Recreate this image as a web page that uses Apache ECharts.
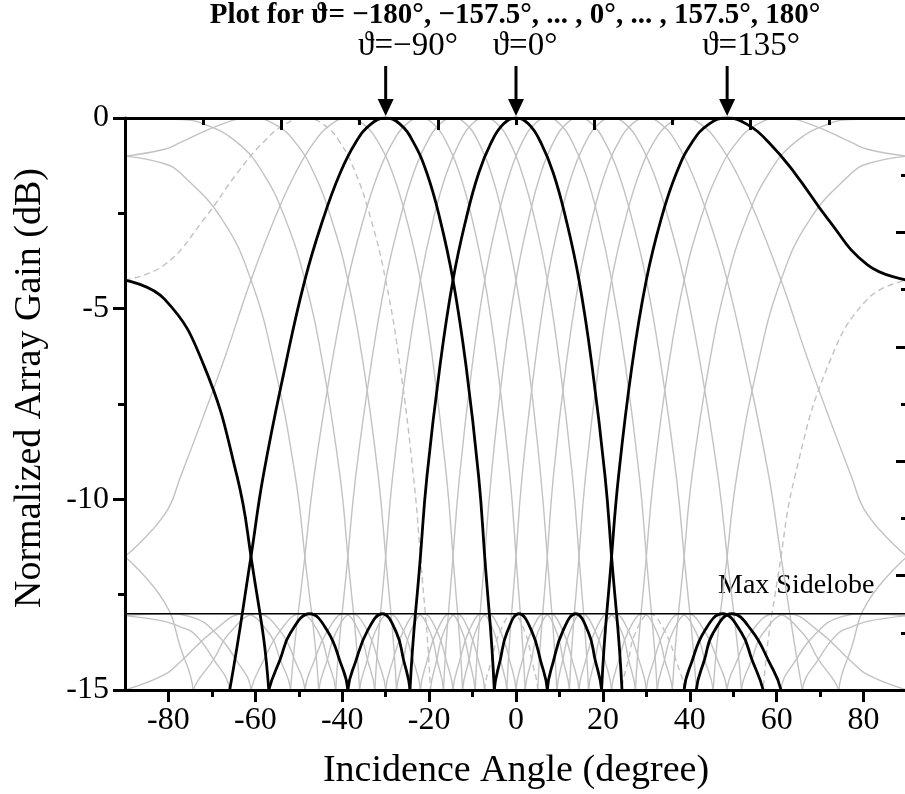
<!DOCTYPE html>
<html>
<head>
<meta charset="utf-8">
<title>Normalized array gain</title>
<script src="https://cdn.jsdelivr.net/npm/echarts@6/dist/echarts.min.js"></script>
<style>
  html, body { margin: 0; padding: 0; background: #fff; }
  #chart { width: 905px; height: 794px; }
</style>
</head>
<body>
<div id="chart"></div>
<script>
// normalized array gain of each beam, [incidence angle (deg), gain (dB)]
// named after the phase shift ϑ (ϑ=180° is the same beam as ϑ=-180°)
const beamM180 = [[-90,0],[-77.2,-0.04],[-71.8,-0.16],[-64.2,-0.64],[-58.2,-1.45],[-53.1,-2.65],[-48.6,-4.25],[-44.4,-6.5],[-40.5,-9.4],[-38.7,-11.5],[-36,-15],[-30,-30],[-22,-15],[-20.5,-14.25],[-18.2,-13.45],[-15.2,-13],[-12.3,-13.5],[-10.8,-14.2],[-9.4,-15],[0,-30],[9.4,-15],[10.8,-14.2],[12.3,-13.5],[15.2,-13],[18.2,-13.45],[20.5,-14.25],[22,-15],[30,-30],[36,-15],[38.7,-11.5],[40.5,-9.4],[44.4,-6.5],[48.6,-4.25],[53.1,-2.65],[58.2,-1.45],[64.2,-0.64],[71.8,-0.16],[77.2,-0.04],[90,0]];
const beamM157 = [[-90,-1.0],[-80.9,-0.82],[-77.2,-0.64],[-67.7,-0.16],[-61,0],[-55.6,-0.16],[-50.8,-0.64],[-46.5,-1.45],[-42.5,-2.65],[-38.7,-4.25],[-35.1,-6.5],[-31.7,-9.4],[-30,-11.5],[-27.5,-15],[-22,-30],[-14.5,-15],[-13,-14.25],[-10.8,-13.45],[-7.9,-13],[-5,-13.5],[-3.6,-14.2],[-2.1,-15],[7.2,-30],[16.7,-15],[18.2,-14.2],[19.7,-13.5],[22.8,-13],[25.9,-13.45],[28.4,-14.25],[30,-15],[38.7,-30],[45.4,-15],[48.6,-11.5],[50.8,-9.4],[55.6,-6.5],[61,-4.25],[67.7,-2.65],[77.2,-1.45],[80.9,-1.2],[90,-1.0]];
const beamM135 = [[-90,-4.25],[-80.9,-3.85],[-71.8,-2.65],[-64.2,-1.45],[-58.2,-0.64],[-53.1,-0.16],[-48.6,0],[-44.4,-0.16],[-40.5,-0.64],[-36.9,-1.45],[-33.4,-2.65],[-30,-4.25],[-26.7,-6.5],[-23.6,-9.4],[-22,-11.5],[-19.7,-15],[-14.5,-30],[-7.2,-15],[-5.7,-14.25],[-3.6,-13.45],[-0.7,-13],[2.1,-13.5],[3.6,-14.2],[5,-15],[14.5,-30],[24.4,-15],[25.9,-14.2],[27.5,-13.5],[30.8,-13],[34.2,-13.45],[36.9,-14.25],[38.7,-15],[48.6,-30],[56.9,-15],[61,-11.5],[64.2,-9.4],[71.8,-6.5],[80.9,-4.75],[90,-4.25]];
const beamM112 = [[-90,-11.5],[-80.9,-10.4],[-77.2,-9.4],[-67.7,-6.5],[-61,-4.25],[-55.6,-2.65],[-50.8,-1.45],[-46.5,-0.64],[-42.5,-0.16],[-38.7,0],[-35.1,-0.16],[-31.7,-0.64],[-28.4,-1.45],[-25.2,-2.65],[-22,-4.25],[-19,-6.5],[-16,-9.4],[-14.5,-11.5],[-12.3,-15],[-7.2,-30],[0,-15],[1.4,-14.25],[3.6,-13.45],[6.5,-13],[9.4,-13.5],[10.8,-14.2],[12.3,-15],[22,-30],[32.5,-15],[34.2,-14.2],[36,-13.5],[39.6,-13],[43.4,-13.45],[46.5,-14.25],[48.6,-15],[61,-30],[74.3,-15],[77.2,-13.9],[80.9,-12.7],[90,-11.5]];
const beamM90 = [[-90,-30],[-65.9,-15],[-61,-11.5],[-58.2,-9.4],[-53.1,-6.5],[-48.6,-4.25],[-44.4,-2.65],[-40.5,-1.45],[-36.9,-0.64],[-33.4,-0.16],[-30,0],[-26.7,-0.16],[-23.6,-0.64],[-20.5,-1.45],[-17.5,-2.65],[-14.5,-4.25],[-11.5,-6.5],[-8.6,-9.4],[-7.2,-11.5],[-5,-15],[0,-30],[7.2,-15],[8.6,-14.25],[10.8,-13.45],[13.7,-13],[16.7,-13.5],[18.2,-14.2],[19.7,-15],[30,-30],[41.5,-15],[43.4,-14.2],[45.4,-13.5],[49.7,-13],[54.3,-13.45],[58.2,-14.25],[61,-15],[90,-30]];
const beamM67 = [[-90,-15],[-61,-30],[-51.9,-15],[-48.6,-11.5],[-46.5,-9.4],[-42.5,-6.5],[-38.7,-4.25],[-35.1,-2.65],[-31.7,-1.45],[-28.4,-0.64],[-25.2,-0.16],[-22,0],[-19,-0.16],[-16,-0.64],[-13,-1.45],[-10.1,-2.65],[-7.2,-4.25],[-4.3,-6.5],[-1.4,-9.4],[0,-11.5],[2.1,-15],[7.2,-30],[14.5,-15],[16,-14.25],[18.2,-13.45],[21.3,-13],[24.4,-13.5],[25.9,-14.2],[27.5,-15],[38.7,-30],[51.9,-15],[54.3,-14.2],[56.9,-13.5],[62.6,-13],[69.6,-13.45],[77.2,-14.25],[80.9,-14.6],[90,-15]];
const beamM45 = [[-90,-13.05],[-80.9,-13],[-74.3,-13.1],[-69.6,-13.45],[-64.2,-14.25],[-61,-15],[-48.6,-30],[-41.5,-15],[-38.7,-11.5],[-36.9,-9.4],[-33.4,-6.5],[-30,-4.25],[-26.7,-2.65],[-23.6,-1.45],[-20.5,-0.64],[-17.5,-0.16],[-14.5,0],[-11.5,-0.16],[-8.6,-0.64],[-5.7,-1.45],[-2.9,-2.65],[0,-4.25],[2.9,-6.5],[5.7,-9.4],[7.2,-11.5],[9.4,-15],[14.5,-30],[22,-15],[23.6,-14.25],[25.9,-13.45],[29.2,-13],[32.5,-13.5],[34.2,-14.2],[36,-15],[48.6,-30],[65.9,-15],[69.6,-14.2],[74.3,-13.5],[77.2,-13.35],[80.9,-13.2],[90,-13.05]];
const beamM22 = [[-90,-20],[-74.3,-15],[-69.6,-14.2],[-65.9,-13.5],[-59.6,-13],[-54.3,-13.45],[-50.8,-14.25],[-48.6,-15],[-38.7,-30],[-32.5,-15],[-30,-11.5],[-28.4,-9.4],[-25.2,-6.5],[-22,-4.25],[-19,-2.65],[-16,-1.45],[-13,-0.64],[-10.1,-0.16],[-7.2,0],[-4.3,-0.16],[-1.4,-0.64],[1.4,-1.45],[4.3,-2.65],[7.2,-4.25],[10.1,-6.5],[13,-9.4],[14.5,-11.5],[16.7,-15],[22,-30],[30,-15],[31.7,-14.25],[34.2,-13.45],[37.8,-13],[41.5,-13.5],[43.4,-14.2],[45.4,-15],[61,-30],[90,-20]];
const beam0 = [[-90,-30],[-56.9,-15],[-54.3,-14.2],[-51.9,-13.5],[-47.5,-13],[-43.4,-13.45],[-40.5,-14.25],[-38.7,-15],[-30,-30],[-24.4,-15],[-22,-11.5],[-20.5,-9.4],[-17.5,-6.5],[-14.5,-4.25],[-11.5,-2.65],[-8.6,-1.45],[-5.7,-0.64],[-2.9,-0.16],[0,0],[2.9,-0.16],[5.7,-0.64],[8.6,-1.45],[11.5,-2.65],[14.5,-4.25],[17.5,-6.5],[20.5,-9.4],[22,-11.5],[24.4,-15],[30,-30],[38.7,-15],[40.5,-14.25],[43.4,-13.45],[47.5,-13],[51.9,-13.5],[54.3,-14.2],[56.9,-15],[90,-30]];
const beam22 = [[-90,-20],[-61,-30],[-45.4,-15],[-43.4,-14.2],[-41.5,-13.5],[-37.8,-13],[-34.2,-13.45],[-31.7,-14.25],[-30,-15],[-22,-30],[-16.7,-15],[-14.5,-11.5],[-13,-9.4],[-10.1,-6.5],[-7.2,-4.25],[-4.3,-2.65],[-1.4,-1.45],[1.4,-0.64],[4.3,-0.16],[7.2,0],[10.1,-0.16],[13,-0.64],[16,-1.45],[19,-2.65],[22,-4.25],[25.2,-6.5],[28.4,-9.4],[30,-11.5],[32.5,-15],[38.7,-30],[48.6,-15],[50.8,-14.25],[54.3,-13.45],[59.6,-13],[65.9,-13.5],[69.6,-14.2],[74.3,-15],[90,-20]];
const beam45 = [[-90,-13.05],[-80.9,-13.2],[-77.2,-13.35],[-74.3,-13.5],[-69.6,-14.2],[-65.9,-15],[-48.6,-30],[-36,-15],[-34.2,-14.2],[-32.5,-13.5],[-29.2,-13],[-25.9,-13.45],[-23.6,-14.25],[-22,-15],[-14.5,-30],[-9.4,-15],[-7.2,-11.5],[-5.7,-9.4],[-2.9,-6.5],[0,-4.25],[2.9,-2.65],[5.7,-1.45],[8.6,-0.64],[11.5,-0.16],[14.5,0],[17.5,-0.16],[20.5,-0.64],[23.6,-1.45],[26.7,-2.65],[30,-4.25],[33.4,-6.5],[36.9,-9.4],[38.7,-11.5],[41.5,-15],[48.6,-30],[61,-15],[64.2,-14.25],[69.6,-13.45],[74.3,-13.1],[80.9,-13],[90,-13.05]];
const beam67 = [[-90,-15],[-80.9,-14.6],[-77.2,-14.25],[-69.6,-13.45],[-62.6,-13],[-56.9,-13.5],[-54.3,-14.2],[-51.9,-15],[-38.7,-30],[-27.5,-15],[-25.9,-14.2],[-24.4,-13.5],[-21.3,-13],[-18.2,-13.45],[-16,-14.25],[-14.5,-15],[-7.2,-30],[-2.1,-15],[0,-11.5],[1.4,-9.4],[4.3,-6.5],[7.2,-4.25],[10.1,-2.65],[13,-1.45],[16,-0.64],[19,-0.16],[22,0],[25.2,-0.16],[28.4,-0.64],[31.7,-1.45],[35.1,-2.65],[38.7,-4.25],[42.5,-6.5],[46.5,-9.4],[48.6,-11.5],[51.9,-15],[61,-30],[90,-15]];
const beam90 = [[-90,-30],[-61,-15],[-58.2,-14.25],[-54.3,-13.45],[-49.7,-13],[-45.4,-13.5],[-43.4,-14.2],[-41.5,-15],[-30,-30],[-19.7,-15],[-18.2,-14.2],[-16.7,-13.5],[-13.7,-13],[-10.8,-13.45],[-8.6,-14.25],[-7.2,-15],[0,-30],[5,-15],[7.2,-11.5],[8.6,-9.4],[11.5,-6.5],[14.5,-4.25],[17.5,-2.65],[20.5,-1.45],[23.6,-0.64],[26.7,-0.16],[30,0],[33.4,-0.16],[36.9,-0.64],[40.5,-1.45],[44.4,-2.65],[48.6,-4.25],[53.1,-6.5],[58.2,-9.4],[61,-11.5],[65.9,-15],[90,-30]];
const beam112 = [[-90,-11.5],[-80.9,-12.7],[-77.2,-13.9],[-74.3,-15],[-61,-30],[-48.6,-15],[-46.5,-14.25],[-43.4,-13.45],[-39.6,-13],[-36,-13.5],[-34.2,-14.2],[-32.5,-15],[-22,-30],[-12.3,-15],[-10.8,-14.2],[-9.4,-13.5],[-6.5,-13],[-3.6,-13.45],[-1.4,-14.25],[0,-15],[7.2,-30],[12.3,-15],[14.5,-11.5],[16,-9.4],[19,-6.5],[22,-4.25],[25.2,-2.65],[28.4,-1.45],[31.7,-0.64],[35.1,-0.16],[38.7,0],[42.5,-0.16],[46.5,-0.64],[50.8,-1.45],[55.6,-2.65],[61,-4.25],[67.7,-6.5],[77.2,-9.4],[80.9,-10.4],[90,-11.5]];
const beam135 = [[-90,-4.25],[-80.9,-4.75],[-71.8,-6.5],[-64.2,-9.4],[-61,-11.5],[-56.9,-15],[-48.6,-30],[-38.7,-15],[-36.9,-14.25],[-34.2,-13.45],[-30.8,-13],[-27.5,-13.5],[-25.9,-14.2],[-24.4,-15],[-14.5,-30],[-5,-15],[-3.6,-14.2],[-2.1,-13.5],[0.7,-13],[3.6,-13.45],[5.7,-14.25],[7.2,-15],[14.5,-30],[19.7,-15],[22,-11.5],[23.6,-9.4],[26.7,-6.5],[30,-4.25],[33.4,-2.65],[36.9,-1.45],[40.5,-0.64],[44.4,-0.16],[48.6,0],[53.1,-0.16],[58.2,-0.64],[64.2,-1.45],[71.8,-2.65],[80.9,-3.85],[90,-4.25]];
const beam157 = [[-90,-1.0],[-80.9,-1.2],[-77.2,-1.45],[-67.7,-2.65],[-61,-4.25],[-55.6,-6.5],[-50.8,-9.4],[-48.6,-11.5],[-45.4,-15],[-38.7,-30],[-30,-15],[-28.4,-14.25],[-25.9,-13.45],[-22.8,-13],[-19.7,-13.5],[-18.2,-14.2],[-16.7,-15],[-7.2,-30],[2.1,-15],[3.6,-14.2],[5,-13.5],[7.9,-13],[10.8,-13.45],[13,-14.25],[14.5,-15],[22,-30],[27.5,-15],[30,-11.5],[31.7,-9.4],[35.1,-6.5],[38.7,-4.25],[42.5,-2.65],[46.5,-1.45],[50.8,-0.64],[55.6,-0.16],[61,0],[67.7,-0.16],[77.2,-0.64],[80.9,-0.82],[90,-1.0]];

// max sidelobe level (dB)
const maxSidelobe = -13;

// tick positions
const xMajorTicks = [-80, -60, -40, -20, 0, 20, 40, 60, 80];
const xMinorTicks = [-70, -50, -30, -10, 10, 30, 50, 70];
const topMajorTicks = [-54, -18, 18, 54];
const topMinorTicks = [-72, -36, 0, 36, 72];
const yMajorTicks = [0, -5, -10, -15];
const yMinorTicks = [-2.5, -7.5, -12.5];
const rightMajorTicks = [-12, -9, -6, -3];
const rightMinorTicks = [-13.5, -10.5, -7.5, -4.5, -1.5];

// highlighted beams: peak angle and caption
const arrowAngles = [-30, 0, 48.6];
const arrowCaptions = ['ϑ=−90°', 'ϑ=0°', 'ϑ=135°'];

const FONT = "'Liberation Serif', 'Times New Roman', serif";
const GRAY = '#c2c2c2';

const beams = [
  { data: beamM180, kind: 'gray' },
  { data: beamM157, kind: 'gray' },
  { data: beamM112, kind: 'gray' },
  { data: beamM67, kind: 'gray' },
  { data: beamM45, kind: 'gray' },
  { data: beamM22, kind: 'gray' },
  { data: beam22, kind: 'gray' },
  { data: beam45, kind: 'gray' },
  { data: beam67, kind: 'gray' },
  { data: beam90, kind: 'gray' },
  { data: beam112, kind: 'gray' },
  { data: beam157, kind: 'gray' },
  { data: beamM135, kind: 'dashed' },
  { data: beamM90, kind: 'black' },
  { data: beam0, kind: 'black' },
  { data: beam135, kind: 'black' }
];

function lineStyleFor(kind) {
  if (kind === 'black') return { color: '#000', width: 2.8 };
  if (kind === 'dashed') return { color: GRAY, width: 1.4, type: [6, 4] };
  return { color: GRAY, width: 1.4 };
}

const series = beams.map(b => ({
  type: 'line',
  data: b.data,
  symbol: 'none',
  smooth: 0.45,
  silent: true,
  z: b.kind === 'black' ? 4 : 2,
  lineStyle: lineStyleFor(b.kind)
}));
series.push({
  type: 'line',
  data: [[-90, maxSidelobe], [90, maxSidelobe]],
  symbol: 'none',
  silent: true,
  z: 3,
  lineStyle: { color: '#000', width: 1.4 }
});

const axisLine = { show: true, onZero: false, lineStyle: { color: '#000', width: 3 } };
const noLine = { show: false, onZero: false };
const tickStyle = { color: '#000', width: 3 };
const labelStyle = { fontSize: 32, fontFamily: FONT, color: '#000' };

const chart = echarts.init(document.getElementById('chart'));
chart.setOption({
  animation: false,
  grid: { left: 125, right: -2, top: 118, bottom: 104, containLabel: false, outerBoundsMode: 'none' },
  xAxis: [
    { type: 'value', position: 'bottom', min: -90, max: 90, z: 10, axisLine: axisLine,
      axisTick: { show: true, customValues: xMajorTicks, length: 12, lineStyle: tickStyle },
      axisLabel: Object.assign({ customValues: xMajorTicks, margin: 15 }, labelStyle),
      splitLine: { show: false } },
    { type: 'value', position: 'bottom', min: -90, max: 90, z: 10, axisLine: noLine,
      axisTick: { show: true, customValues: xMinorTicks, length: 7, lineStyle: tickStyle },
      axisLabel: { show: false }, splitLine: { show: false } },
    { type: 'value', position: 'top', min: -90, max: 90, z: 10, axisLine: axisLine,
      axisTick: { show: true, inside: true, customValues: topMajorTicks, length: 12, lineStyle: tickStyle },
      axisLabel: { show: false }, splitLine: { show: false } },
    { type: 'value', position: 'top', min: -90, max: 90, z: 10, axisLine: noLine,
      axisTick: { show: true, inside: true, customValues: topMinorTicks, length: 7, lineStyle: tickStyle },
      axisLabel: { show: false }, splitLine: { show: false } }
  ],
  yAxis: [
    { type: 'value', position: 'left', min: -15, max: 0, z: 10, axisLine: axisLine,
      axisTick: { show: true, customValues: yMajorTicks, length: 12, lineStyle: tickStyle },
      axisLabel: Object.assign({ customValues: yMajorTicks, margin: 16 }, labelStyle),
      splitLine: { show: false } },
    { type: 'value', position: 'left', min: -15, max: 0, z: 10, axisLine: noLine,
      axisTick: { show: true, customValues: yMinorTicks, length: 7, lineStyle: tickStyle },
      axisLabel: { show: false }, splitLine: { show: false } },
    { type: 'value', position: 'right', min: -15, max: 0, z: 10, axisLine: axisLine,
      axisTick: { show: true, inside: true, customValues: rightMajorTicks, length: 11, lineStyle: tickStyle },
      axisLabel: { show: false }, splitLine: { show: false } },
    { type: 'value', position: 'right', min: -15, max: 0, z: 10, axisLine: noLine,
      axisTick: { show: true, inside: true, customValues: rightMinorTicks, length: 6, lineStyle: tickStyle },
      axisLabel: { show: false }, splitLine: { show: false } }
  ],
  series: series
});

// arrows and captions above the plot
const captionX = [408, 525, 751];
const topY = chart.convertToPixel({ yAxisIndex: 0 }, 0);
const graphic = [];
arrowAngles.forEach((a, i) => {
  const x = chart.convertToPixel({ xAxisIndex: 0 }, a);
  graphic.push({ type: 'line', shape: { x1: x, y1: 66, x2: x, y2: topY - 14 },
    style: { stroke: '#000', lineWidth: 3 } });
  graphic.push({ type: 'polygon', shape: { points: [[x - 8, topY - 19], [x + 8, topY - 19], [x, topY - 2]] },
    style: { fill: '#000' } });
  graphic.push({ type: 'text', x: captionX[i], y: 46,
    style: { text: arrowCaptions[i], fontSize: 33, fontFamily: FONT, fill: '#000', align: 'center', verticalAlign: 'middle' } });
});
graphic.push({ type: 'text', x: 515, y: 16,
  style: { text: 'Plot for ϑ= −180°, −157.5°, ... , 0°, ... , 157.5°, 180°', fontSize: 29, fontWeight: 'bold',
    fontFamily: FONT, fill: '#000', align: 'center', verticalAlign: 'middle' } });
graphic.push({ type: 'text', x: 718, y: 586,
  style: { text: 'Max Sidelobe', fontSize: 28, fontFamily: FONT, fill: '#000', align: 'left', verticalAlign: 'middle' } });
graphic.push({ type: 'text', x: 516, y: 771,
  style: { text: 'Incidence Angle (degree)', fontSize: 38, fontFamily: FONT, fill: '#000', align: 'center', verticalAlign: 'middle' } });
graphic.push({ type: 'text', x: 30, y: 388, rotation: Math.PI / 2,
  style: { text: 'Normalized Array Gain (dB)', fontSize: 38, fontFamily: FONT, fill: '#000', align: 'center', verticalAlign: 'middle' } });
chart.setOption({ graphic: graphic });
</script>
</body>
</html>
